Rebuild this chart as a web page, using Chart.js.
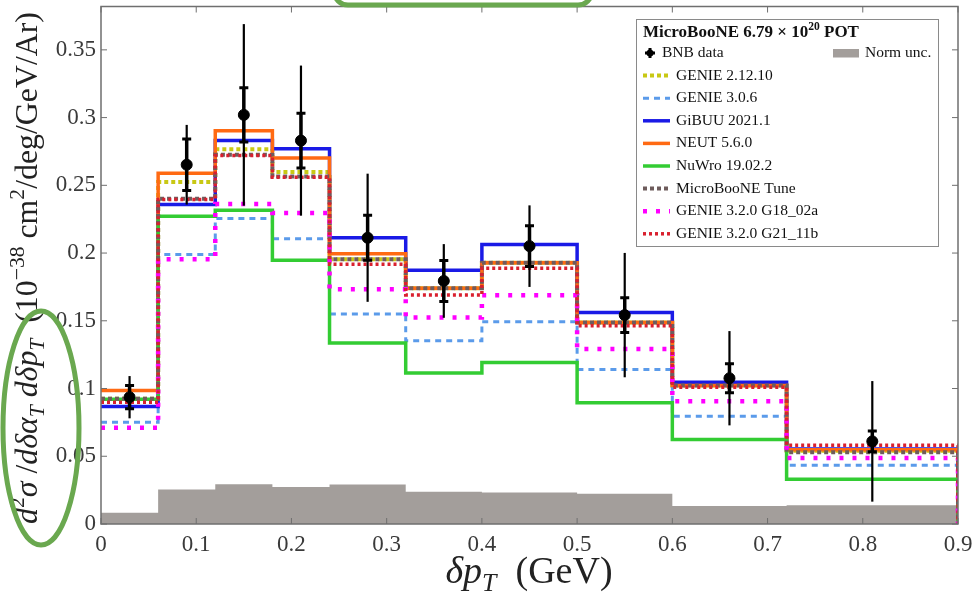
<!DOCTYPE html>
<html lang="en">
<head>
    <meta charset="UTF-8">
    <title>MicroBooNE delta pT cross section</title>
    <script src="https://cdn.jsdelivr.net/npm/chart.js"></script>
    <style>
        html, body {
            margin: 0;
            padding: 0;
            background: #ffffff;
        }
        canvas {
            display: block;
        }
    </style>
</head>
<body>
<canvas id="grafico" width="973" height="596"></canvas>

<script>
    // bins of delta pT (GeV)
    const binEdges = [0, 0.06, 0.12, 0.18, 0.24, 0.32, 0.40, 0.50, 0.60, 0.72, 0.90];
    const binCenters = [0.03, 0.09, 0.15, 0.21, 0.28, 0.36, 0.45, 0.55, 0.66, 0.81];

    // BNB data with stat (inner) and total (outer) errors
    const bnbData = [0.0936, 0.2652, 0.3020, 0.2830, 0.2113, 0.1794, 0.2051, 0.1542, 0.1076, 0.0610];
    const statErr = [0.0086, 0.0190, 0.0200, 0.0202, 0.0167, 0.0151, 0.0150, 0.0129, 0.0107, 0.0076];
    const totalErr = [0.0156, 0.0294, 0.0670, 0.0554, 0.0473, 0.0272, 0.0301, 0.0459, 0.0348, 0.0445];

    // generator predictions
    const genie21210 = [0.0924, 0.2524, 0.2767, 0.2598, 0.1954, 0.1740, 0.1929, 0.1488, 0.1022, 0.0540];
    const genie306 = [0.0752, 0.1990, 0.2255, 0.2105, 0.1550, 0.1353, 0.1493, 0.1140, 0.0796, 0.0434];
    const gibuu = [0.0868, 0.2358, 0.2831, 0.2770, 0.2113, 0.1873, 0.2064, 0.1561, 0.1046, 0.0553];
    const neut = [0.0985, 0.2590, 0.2902, 0.2701, 0.1995, 0.1740, 0.1929, 0.1488, 0.1022, 0.0549];
    const nuwro = [0.0920, 0.2272, 0.2316, 0.1946, 0.1336, 0.1115, 0.1193, 0.0895, 0.0623, 0.0331];
    const uboneTune = [0.0924, 0.2400, 0.2726, 0.2566, 0.1954, 0.1740, 0.1929, 0.1488, 0.1022, 0.0530];
    const genieG18 = [0.0711, 0.1954, 0.2363, 0.2296, 0.1733, 0.1524, 0.1689, 0.1292, 0.0907, 0.0488];
    const genieG21 = [0.0899, 0.2395, 0.2720, 0.2560, 0.1917, 0.1691, 0.1888, 0.1463, 0.1010, 0.0581];

    // normalisation uncertainty band
    const normUnc = [0.0083, 0.0255, 0.0294, 0.0274, 0.0292, 0.0238, 0.0233, 0.0223, 0.0132, 0.0138];

    const xTickVals = [0, 0.1, 0.2, 0.3, 0.4, 0.5, 0.6, 0.7, 0.8, 0.9];
    const xTickLabels = ['0', '0.1', '0.2', '0.3', '0.4', '0.5', '0.6', '0.7', '0.8', '0.9'];
    const yTickVals = [0, 0.05, 0.1, 0.15, 0.2, 0.25, 0.3, 0.35];
    const yTickLabels = ['0', '0.05', '0.1', '0.15', '0.2', '0.25', '0.3', '0.35'];

    const serif = '"Liberation Serif", "DejaVu Serif", serif';

    // step histogram points (left edges, closed at the right edge)
    function histo(vals, dropEnd) {
        const pts = vals.map((v, i) => ({ x: binEdges[i], y: v }));
        pts.push({ x: binEdges[binEdges.length - 1], y: vals[vals.length - 1] });
        if (dropEnd) pts.push({ x: binEdges[binEdges.length - 1], y: 0 });
        return pts;
    }

    function mcLine(label, vals, color, width, dash, order) {
        return {
            label: label,
            data: histo(vals, true),
            borderColor: color,
            borderWidth: width,
            borderDash: dash,
            stepped: 'before',
            pointRadius: 0,
            fill: false,
            order: order
        };
    }

    const datasets = [
        {
            label: 'BNB data',
            data: binCenters.map((x, i) => ({ x: x, y: bnbData[i] })),
            showLine: false,
            pointRadius: 5.5,
            pointBackgroundColor: '#000',
            pointBorderColor: '#000',
            order: 0
        },
        mcLine('GENIE 2.12.10', genie21210, '#c8c814', 4, [4, 3], 8),
        mcLine('GENIE 3.0.6', genie306, '#5b9bea', 3, [6, 5], 7),
        mcLine('GiBUU 2021.1', gibuu, '#1a1ae6', 3.5, [], 6),
        mcLine('NEUT 5.6.0', neut, '#ff6a13', 3.5, [], 5),
        mcLine('NuWro 19.02.2', nuwro, '#33cc33', 3.5, [], 4),
        mcLine('MicroBooNE Tune', uboneTune, '#6e5c5c', 4, [4, 3], 3),
        mcLine('GENIE 3.2.0 G18_02a', genieG18, '#ff00ff', 4.5, [4, 9], 2),
        mcLine('GENIE 3.2.0 G21_11b', genieG21, '#d9202e', 3.5, [3, 3], 1),
        {
            label: 'Norm unc.',
            data: histo(normUnc, false),
            borderWidth: 0,
            borderColor: 'rgba(0,0,0,0)',
            backgroundColor: '#a39e9b',
            stepped: 'before',
            pointRadius: 0,
            fill: 'origin',
            order: 9
        }
    ];

    // rich text: parts are [text, style, position]
    function partFont(p, size) {
        const s = p[2] ? size * 0.68 : size;
        const st = p[1] === 'i' ? 'italic ' : (p[1] === 'b' ? 'bold ' : '');
        return st + s + 'px ' + serif;
    }

    function richWidth(ctx, parts, size) {
        let w = 0;
        parts.forEach(p => {
            ctx.font = partFont(p, size);
            w += ctx.measureText(p[0]).width;
        });
        return w;
    }

    function drawRich(ctx, parts, x, y, size) {
        ctx.textBaseline = 'alphabetic';
        ctx.textAlign = 'left';
        parts.forEach(p => {
            ctx.font = partFont(p, size);
            let dy = 0;
            if (p[2] === 'sup') dy = -size * 0.4;
            if (p[2] === 'sub') dy = size * 0.22;
            ctx.fillText(p[0], x, y + dy);
            x += ctx.measureText(p[0]).width;
        });
    }

    const yTitle = [['d', 'i'], ['2', 'r', 'sup'], ['σ', 'i'], [' /', 'r'], ['dδα', 'i'], ['T', 'i', 'sub'],
        [' dδp', 'i'], ['T', 'i', 'sub'], ['  (10', 'r'], ['−38', 'r', 'sup'], [' cm', 'r'], ['2', 'r', 'sup'],
        ['/deg/GeV/Ar)', 'r']];
    const xTitle = [['δp', 'i'], ['T', 'i', 'sub'], ['  (GeV)', 'r']];
    const legendTitle = [['MicroBooNE 6.79 × 10', 'b'], ['20', 'b', 'sup'], [' POT', 'b']];

    const errorBars = {
        id: 'errorBars',
        beforeDatasetDraw(chart, args) {
            if (args.index !== 0) return;
            const ctx = chart.ctx;
            const xs = chart.scales.x;
            const ys = chart.scales.y;
            ctx.save();
            ctx.strokeStyle = '#000';
            for (let i = 0; i < bnbData.length; i++) {
                const px = xs.getPixelForValue(binCenters[i]);
                ctx.lineWidth = 2.2;
                ctx.beginPath();
                ctx.moveTo(px, ys.getPixelForValue(bnbData[i] - totalErr[i]));
                ctx.lineTo(px, ys.getPixelForValue(bnbData[i] + totalErr[i]));
                ctx.stroke();
                const lo = ys.getPixelForValue(bnbData[i] - statErr[i]);
                const hi = ys.getPixelForValue(bnbData[i] + statErr[i]);
                ctx.lineWidth = 3.5;
                ctx.beginPath();
                ctx.moveTo(px, lo);
                ctx.lineTo(px, hi);
                ctx.stroke();
                ctx.lineWidth = 3;
                ctx.beginPath();
                ctx.moveTo(px - 4.5, lo);
                ctx.lineTo(px + 4.5, lo);
                ctx.moveTo(px - 4.5, hi);
                ctx.lineTo(px + 4.5, hi);
                ctx.stroke();
            }
            ctx.restore();
        }
    };

    const decor = {
        id: 'decor',
        afterDraw(chart) {
            const ctx = chart.ctx;
            const a = chart.chartArea;
            const xs = chart.scales.x;
            const ys = chart.scales.y;
            ctx.save();

            // frame and inward ticks
            ctx.strokeStyle = '#6f6f6f';
            ctx.lineWidth = 1.5;
            ctx.strokeRect(a.left, a.top, a.right - a.left, a.bottom - a.top);
            ctx.lineWidth = 1;
            ctx.beginPath();
            xTickVals.forEach(v => {
                const px = xs.getPixelForValue(v);
                ctx.moveTo(px, a.bottom);
                ctx.lineTo(px, a.bottom - 6);
                ctx.moveTo(px, a.top);
                ctx.lineTo(px, a.top + 6);
            });
            yTickVals.forEach(v => {
                const py = ys.getPixelForValue(v);
                ctx.moveTo(a.left, py);
                ctx.lineTo(a.left + 6, py);
                ctx.moveTo(a.right, py);
                ctx.lineTo(a.right - 6, py);
            });
            ctx.stroke();

            // axis titles
            ctx.fillStyle = '#222';
            let size = 30;
            size = size * 512 / richWidth(ctx, yTitle, size);
            const wy = richWidth(ctx, yTitle, size);
            ctx.save();
            ctx.translate(37, 268);
            ctx.rotate(-Math.PI / 2);
            drawRich(ctx, yTitle, -wy / 2, 0, size);
            ctx.restore();
            const wx = richWidth(ctx, xTitle, 38);
            drawRich(ctx, xTitle, 529 - wx / 2, 583, 38);

            // legend
            const lx = 636.5, ly = 19.5;
            ctx.fillStyle = '#fff';
            ctx.fillRect(lx, ly, 302, 227);
            ctx.strokeStyle = '#8a8a8a';
            ctx.lineWidth = 1;
            ctx.strokeRect(lx, ly, 302, 227);
            ctx.fillStyle = '#111';
            drawRich(ctx, legendTitle, 643, 37, 17);

            ctx.font = '15.5px ' + serif;
            ctx.textBaseline = 'middle';
            // data marker
            const rowY = 53;
            ctx.strokeStyle = '#000';
            ctx.lineWidth = 3;
            ctx.beginPath();
            ctx.moveTo(645, rowY);
            ctx.lineTo(655, rowY);
            ctx.moveTo(650, rowY - 5);
            ctx.lineTo(650, rowY + 5);
            ctx.stroke();
            ctx.beginPath();
            ctx.arc(650, rowY, 3.5, 0, Math.PI * 2);
            ctx.fillStyle = '#000';
            ctx.fill();
            ctx.fillStyle = '#111';
            ctx.fillText('BNB data', 662, rowY);
            ctx.fillStyle = '#a39e9b';
            ctx.fillRect(833, rowY - 4, 26, 8.5);
            ctx.fillStyle = '#111';
            ctx.fillText('Norm unc.', 865, rowY);

            for (let i = 1; i <= 8; i++) {
                const ds = chart.data.datasets[i];
                const y = rowY + 22.6 * i;
                ctx.strokeStyle = ds.borderColor;
                ctx.lineWidth = ds.borderWidth;
                ctx.setLineDash(ds.borderDash);
                ctx.beginPath();
                ctx.moveTo(643, y);
                ctx.lineTo(670, y);
                ctx.stroke();
                ctx.setLineDash([]);
                ctx.fillStyle = '#111';
                ctx.fillText(ds.label, 676, y);
            }

            // green highlight marks
            ctx.strokeStyle = '#6aa84f';
            ctx.lineWidth = 5;
            ctx.beginPath();
            ctx.ellipse(41, 428, 38, 117, 0, 0, Math.PI * 2);
            ctx.stroke();
            ctx.beginPath();
            ctx.roundRect(334, -40, 258, 45, 14);
            ctx.stroke();

            ctx.restore();
        }
    };

    new Chart(document.getElementById('grafico').getContext('2d'), {
        type: 'line',
        data: { datasets: datasets },
        options: {
            responsive: false,
            animation: false,
            layout: { padding: { top: 5, right: 15, left: 0, bottom: 0 } },
            plugins: {
                legend: { display: false },
                tooltip: { enabled: false }
            },
            scales: {
                x: {
                    type: 'linear',
                    min: 0,
                    max: 0.9,
                    grid: { display: false, drawTicks: false },
                    border: { display: false },
                    afterBuildTicks: s => { s.ticks = xTickVals.map(v => ({ value: v })); },
                    afterFit: s => { s.height = 72; s.paddingLeft = 0; s.paddingRight = 0; },
                    ticks: {
                        padding: 7,
                        maxRotation: 0,
                        autoSkip: false,
                        color: '#3a3a3a',
                        font: { family: serif, size: 23 },
                        callback: (v, i) => xTickLabels[i]
                    }
                },
                y: {
                    min: 0,
                    max: 0.382,
                    grid: { display: false, drawTicks: false },
                    border: { display: false },
                    afterBuildTicks: s => { s.ticks = yTickVals.map(v => ({ value: v })); },
                    afterFit: s => { s.width = 101; s.paddingTop = 0; s.paddingBottom = 0; },
                    ticks: {
                        padding: 5,
                        autoSkip: false,
                        color: '#3a3a3a',
                        font: { family: serif, size: 23 },
                        callback: (v, i) => yTickLabels[i]
                    }
                }
            }
        },
        plugins: [errorBars, decor]
    });
</script>
</body>
</html>
